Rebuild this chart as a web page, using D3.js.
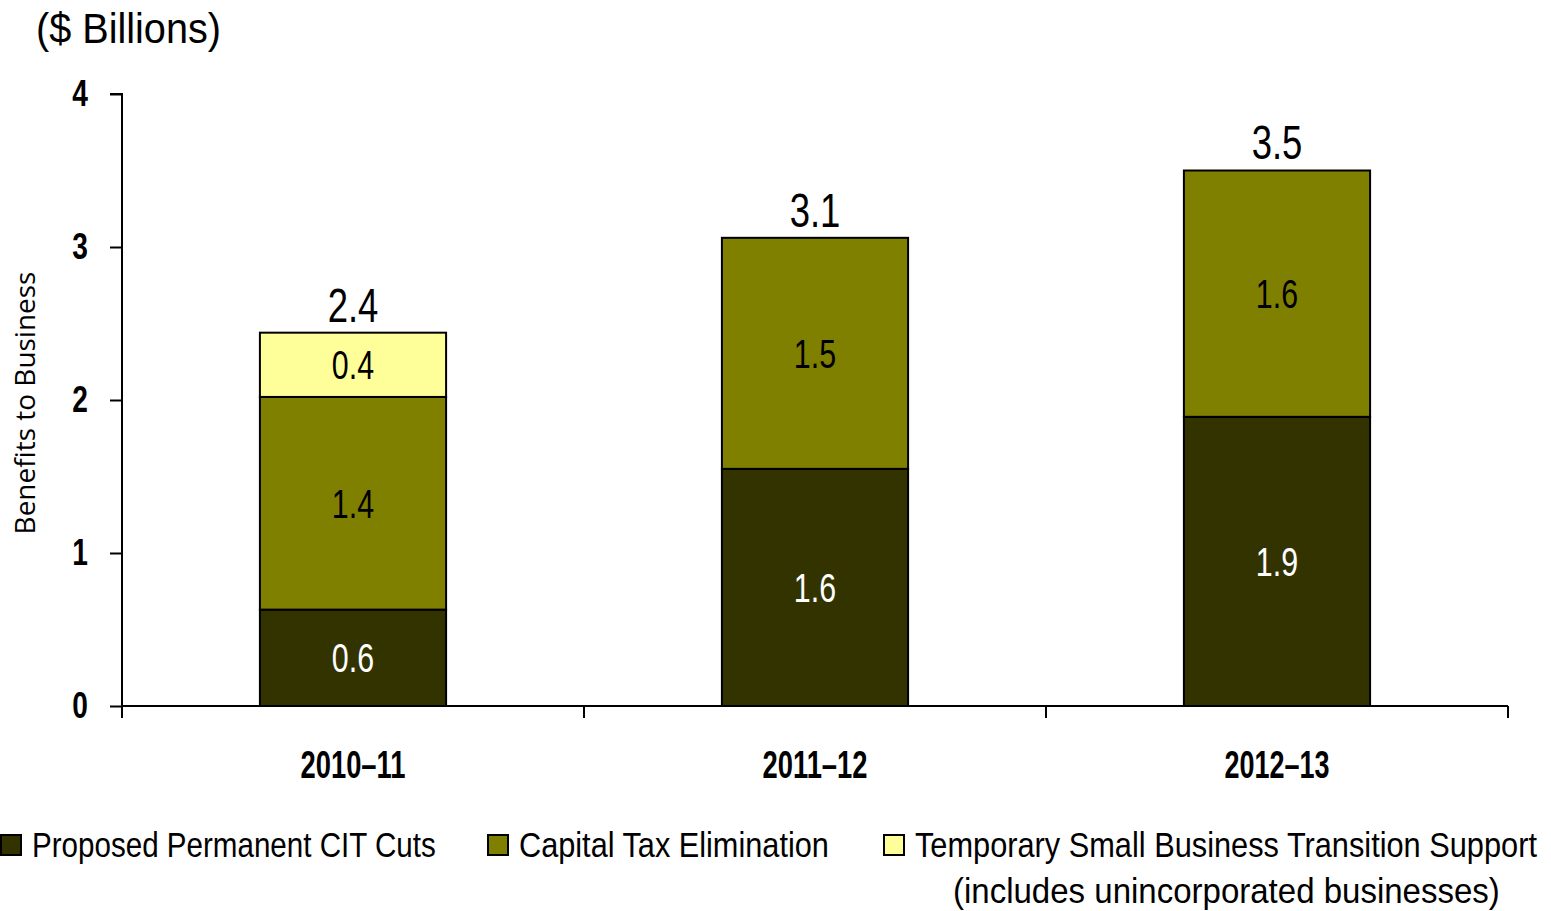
<!DOCTYPE html>
<html>
<head>
<meta charset="utf-8">
<script src="https://cdn.jsdelivr.net/npm/d3@7"></script>
<style>
  html, body { margin: 0; padding: 0; background: #fff; }
  svg text { font-family: "Liberation Sans", Arial, sans-serif; fill: #000; }
</style>
</head>
<body>
<svg id="chart" width="1551" height="911"></svg>
<script>
const categories = ["2010–11", "2011–12", "2012–13"];
const seriesNames = ["Proposed Permanent CIT Cuts", "Capital Tax Elimination", "Temporary Small Business Transition Support"];
const citCuts = [0.63, 1.55, 1.89];
const capitalTax = [1.39, 1.51, 1.61];
const smallBusiness = [0.42, 0, 0];
const citLabels = ["0.6", "1.6", "1.9"];
const capitalLabels = ["1.4", "1.5", "1.6"];
const smallLabels = ["0.4", "", ""];
const totalLabels = ["2.4", "3.1", "3.5"];
const yTicks = [0, 1, 2, 3, 4];
const colors = ["#333300", "#808000", "#FFFF99"];
const labelColors = ["#fff", "#000", "#000"];

(function () {
const svg = d3.select("#chart");
const mLeft = 122, mRight = 1508, mTop = 94, mBottom = 706;
const CONDENSE = 0.76;

// Horizontal squeeze done with a transform so that the drawn box matches the glyphs
function squeeze(node, s) {
  const el = d3.select(node);
  const x0 = +el.attr("x") || 0, y0 = +el.attr("y") || 0;
  const prev = el.attr("transform") || "";
  el.attr("transform", `${prev} translate(${x0},${y0}) scale(${s},1) translate(${-x0},${-y0})`);
}
function condense(sel, f) {
  sel.each(function () { if (this.getComputedTextLength() > 0) squeeze(this, f); });
}
function fit(sel, w) {
  sel.each(function () {
    const n = this.getComputedTextLength();
    if (n > 0) squeeze(this, w / n);
  });
}

const x = d3.scaleBand().domain(categories).range([mLeft, mRight]).padding(0);
const y = d3.scaleLinear().domain([0, 4]).range([mBottom, mTop]);
const barW = x.bandwidth() * 0.403;

const rows = categories.map((c, i) => ({ cat: c, cit: citCuts[i], cap: capitalTax[i], sb: smallBusiness[i] }));
const stack = d3.stack().keys(["cit", "cap", "sb"])(rows);
const segLabels = [citLabels, capitalLabels, smallLabels];

stack.forEach((layer, li) => {
  const g = svg.append("g");
  layer.forEach((d, i) => {
    if (d[1] - d[0] <= 0) return;
    const cx = x(categories[i]) + x.bandwidth() / 2;
    g.append("rect")
      .attr("x", cx - barW / 2)
      .attr("y", y(d[1]))
      .attr("width", barW)
      .attr("height", y(d[0]) - y(d[1]))
      .attr("fill", colors[li])
      .attr("stroke", "#000")
      .attr("stroke-width", 2);
    g.append("text")
      .attr("x", cx)
      .attr("y", (y(d[0]) + y(d[1])) / 2)
      .attr("dy", "0.36em")
      .attr("text-anchor", "middle")
      .style("font-size", "40px")
      .style("fill", labelColors[li])
      .text(segLabels[li][i])
      .call(condense, CONDENSE);
  });
});

const totals = rows.map(r => r.cit + r.cap + r.sb);
svg.append("g").selectAll("text").data(categories).join("text")
  .attr("x", d => x(d) + x.bandwidth() / 2)
  .attr("y", (d, i) => y(totals[i]) - 11)
  .attr("text-anchor", "middle")
  .style("font-size", "48px")
  .text((d, i) => totalLabels[i])
  .call(condense, CONDENSE);

const yAxis = svg.append("g").attr("transform", `translate(${mLeft},0)`)
  .call(d3.axisLeft(y).tickValues(yTicks).tickFormat(d3.format("d")).tickSize(12).tickPadding(22));
yAxis.select(".domain").attr("stroke", "#000").attr("stroke-width", 2).attr("d", `M-12,${mTop}H0V${mBottom}`);
yAxis.selectAll(".tick line").attr("stroke", "#000").attr("stroke-width", 2);
yAxis.selectAll(".tick text").style("font-size", "37px").style("font-weight", "bold")
  .style("font-family", '"Liberation Sans", Arial, sans-serif').style("fill", "#000")
  .call(condense, CONDENSE);

const xAxis = svg.append("g").attr("transform", `translate(0,${mBottom})`);
xAxis.append("line").attr("x1", mLeft).attr("x2", mRight).attr("y1", 0).attr("y2", 0).attr("stroke", "#000").attr("stroke-width", 2);
const bounds = categories.map(c => x(c)).concat([mRight]);
xAxis.selectAll("line.tk").data(bounds).join("line").attr("class", "tk")
  .attr("x1", d => d).attr("x2", d => d).attr("y1", 0).attr("y2", 12)
  .attr("stroke", "#000").attr("stroke-width", 2);
xAxis.selectAll("text").data(categories).join("text")
  .attr("x", d => x(d) + x.bandwidth() / 2)
  .attr("y", 72)
  .attr("text-anchor", "middle")
  .style("font-size", "38px")
  .style("font-weight", "bold")
  .text(d => d)
  .call(fit, 105);

svg.append("text").attr("x", 36).attr("y", 43).style("font-size", "42px").text("($ Billions)").call(fit, 185);
svg.append("text").attr("transform", `translate(35,${(mTop + mBottom) / 2 + 3}) rotate(-90)`)
  .attr("text-anchor", "middle").style("font-size", "27px").style("font-family", '"Open Sans", sans-serif')
  .text("Benefits to Business").call(fit, 263);

const legendX = [1, 488, 884];
const legendW = [404, 310, 622];
const legend = svg.append("g");
seriesNames.forEach((n, i) => {
  legend.append("rect").attr("x", legendX[i]).attr("y", 835).attr("width", 20).attr("height", 20)
    .attr("fill", colors[i]).attr("stroke", "#000").attr("stroke-width", 2);
  legend.append("text").attr("x", legendX[i] + 31).attr("y", 857).style("font-size", "35px").text(n).call(fit, legendW[i]);
});
legend.append("text").attr("x", 953).attr("y", 903).style("font-size", "35px")
  .text("(includes unincorporated businesses)").call(fit, 547);
})();
</script>
</body>
</html>
